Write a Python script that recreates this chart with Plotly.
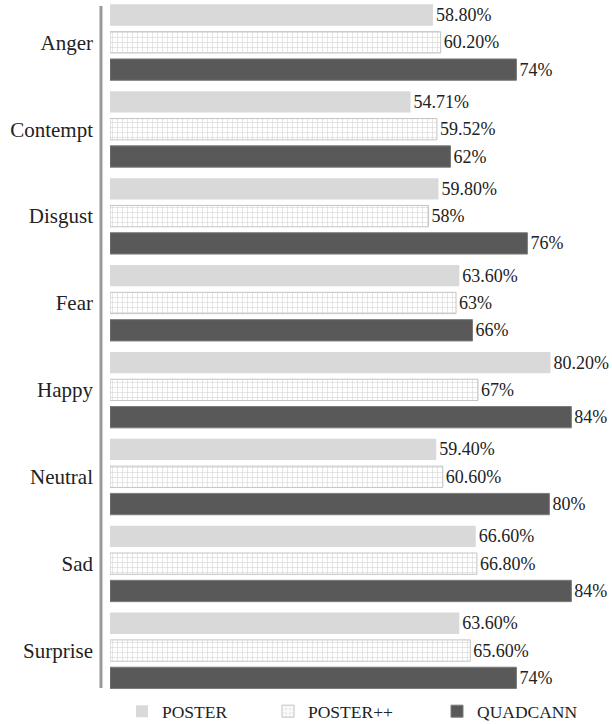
import plotly.graph_objects as go

categories = ["Anger", "Contempt", "Disgust", "Fear", "Happy", "Neutral", "Sad", "Surprise"]

poster = [58.80, 54.71, 59.80, 63.60, 80.20, 59.40, 66.60, 63.60]
poster_pp = [60.20, 59.52, 58.0, 63.0, 67.0, 60.60, 66.80, 65.60]
quadcann = [74, 62, 76, 66, 84, 80, 84, 74]

poster_labels = ["58.80%", "54.71%", "59.80%", "63.60%", "80.20%", "59.40%", "66.60%", "63.60%"]
poster_pp_labels = ["60.20%", "59.52%", "58%", "63%", "67%", "60.60%", "66.80%", "65.60%"]
quadcann_labels = ["74%", "62%", "76%", "66%", "84%", "80%", "84%", "74%"]

FONT = "Liberation Serif, Times New Roman, serif"
label_font = dict(family=FONT, size=18, color="#222222")

common = dict(orientation="h", textposition="outside", textfont=label_font,
              outsidetextfont=label_font, insidetextfont=label_font,
              constraintext="none", cliponaxis=False)

fig = go.Figure()
fig.add_trace(go.Bar(
    y=categories, x=poster, name="POSTER", legend="legend",
    marker=dict(color="#d9d9d9", line=dict(width=0)),
    text=poster_labels, **common,
))
fig.add_trace(go.Bar(
    y=categories, x=poster_pp, name="POSTER++", legend="legend2",
    marker=dict(color="#ffffff", line=dict(width=1, color="#c4c4c4"),
                pattern=dict(shape="+", fgcolor="#a0a0a0", bgcolor="#ffffff", size=5, solidity=0.2)),
    text=poster_pp_labels, **common,
))
fig.add_trace(go.Bar(
    y=categories, x=quadcann, name="QUADCANN", legend="legend3",
    marker=dict(color="#595959", line=dict(width=1, color="#7a7a7a")),
    text=quadcann_labels, **common,
))

# left vertical axis bar
fig.add_shape(type="line", xref="paper", yref="y", x0=-0.018, x1=-0.018, y0=-0.418, y1=7.43,
              line=dict(color="#9a9a9a", width=3))

leg_font = dict(family=FONT, size=17.5, color="#222222")
def leg(xpx):
    return dict(orientation="h", x=(xpx - 110) / 502, xanchor="left", y=0.001, yanchor="top",
                font=leg_font, bgcolor="rgba(0,0,0,0)")

fig.update_layout(
    width=612, height=724,
    margin=dict(l=110, r=0, t=0, b=30, autoexpand=False),
    paper_bgcolor="white", plot_bgcolor="white",
    barmode="group", bargap=0.057, bargroupgap=0.22,
    font=dict(family=FONT, color="#222222"),
    showlegend=True,
    legend=leg(122), legend2=leg(268), legend3=leg(437),
)
fig.update_xaxes(range=[0, 91.4], showticklabels=False, showgrid=False, zeroline=False, showline=False)
fig.update_yaxes(range=[7.5, -0.487], showgrid=False, zeroline=False, showline=False, ticks="",
                 tickfont=dict(family=FONT, size=21, color="#222222"), ticklabelstandoff=16)

fig.write_html("out.html")
